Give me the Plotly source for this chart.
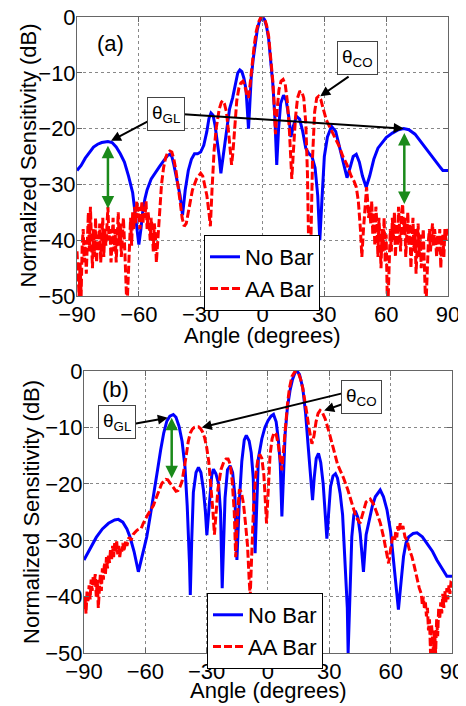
import plotly.graph_objects as go

# ---- panel (a) ----
a_blue_ang = [-90, -88, -86, -84, -82, -80, -78, -75, -73, -71, -69, -67, -65, -63, -61.5, -60, -59, -58, -57, -56,
              -54, -52, -50, -48, -46, -45, -44, -43, -41.5, -40, -38.8, -37.5, -36, -34.5, -33, -31.5, -30, -28.5,
              -27, -26, -25, -24, -23, -22, -21, -20.2, -19.5, -18.5, -17.5, -16, -14.5, -13, -12, -11, -10, -9, -8,
              -7.3, -6.8, -6.2, -5.5, -4.5, -3.5, -2.5, -1.5, -0.5, 0, 1, 2, 3, 4, 5, 6, 6.9, 7.8, 8.8, 10.2, 11.5,
              12.8, 13.8, 15, 16.5, 18, 19.5, 21, 22.5, 24, 25.5, 26.8, 27.8, 28.8, 30, 31.5, 33.5, 35.5, 37.5, 39.5,
              41, 42.5, 44, 45.5, 47, 48.5, 50.3, 52, 54, 56, 58, 60, 63, 66, 68.5, 71, 74, 77, 80, 83, 86, 87.5, 90]
a_blue_db = [-27.5, -26.6, -25.3, -24.2, -23.3, -22.8, -22.5, -22.3, -22.5, -23.3, -24.5, -26, -28.5, -31.5, -36,
             -40.8, -38, -34.5, -32.5, -31, -29, -27.8, -26.8, -25.8, -24.8, -24.6, -25, -26.5, -29.4, -32, -35.5,
             -31, -27.5, -25.5, -24.5, -24.5, -24.2, -23, -20.5, -18.2, -17.2, -17.6, -19.5, -22, -25, -28, -26, -23,
             -20, -16.5, -14.5, -11.5, -10, -9.5, -9.8, -11, -13, -17, -20, -16, -11, -7.5, -4.5, -2.2, -0.8, -0.1,
             0, -0.5, -1.8, -4, -7.5, -12, -18, -26.5, -20, -15.5, -14, -15, -18, -21.5, -19.5, -17.8, -18.3, -20.5,
             -23.5, -24.5, -25, -27, -32, -40, -33, -25, -21.5, -19.6, -20.5, -23.5, -27, -28.8, -27, -25, -24.6,
             -26, -28.5, -30.5, -28.5, -25.5, -23.5, -22.5, -21.6, -20.8, -20.2, -20, -20.2, -21, -22.5, -23.8,
             -25.3, -26.8, -27.5, -27.5]

a_red_ang = [-90, -89.5, -89, -88.5, -88, -87.5, -87, -86.5, -86, -85.5, -85, -84.5, -84, -83.5, -83, -82.5, -82,
             -81.5, -81, -80.5, -80, -79.5, -79, -78.5, -78, -77.5, -77, -76.5, -76, -75.5, -75, -74.5, -74, -73.5,
             -73, -72.5, -72, -71.5, -71, -70.5, -70, -69.5, -69, -68.5, -68, -67.5, -67, -66.5, -66, -65.5, -65,
             -64.5, -64, -63.5, -63, -62.5, -62, -61.5, -61, -60.5, -60, -59.5, -59, -58.5, -58, -57.5, -57, -56.5,
             -56, -55.5, -55, -54.5, -54, -53.5, -53, -52.5, -52, -51.5, -50.8, -50, -49, -48, -47, -46, -45, -44,
             -43, -42, -41, -40, -39, -38, -37, -36, -35, -34, -33, -32, -31, -30, -29, -28, -27, -26, -25.3, -24.5,
             -23.5, -22.5, -21, -20, -19.3, -18.5, -17.5, -16.5, -15.5, -15, -14.3, -13.5, -12.5, -11.5, -10.5,
             -9.5, -8.5, -7.5, -6.8, -6, -5, -4, -3, -2, -1, 0, 1, 2, 3, 4, 5, 5.7, 6.3, 7, 8, 9, 10, 11, 12, 13,
             14.2, 15, 16, 17, 18, 19, 20, 21, 21.8, 22.3, 22.7, 23.5, 24.3, 25.3, 26.3, 27.2, 28.3, 29.5, 31, 33,
             35, 37, 39, 41, 43, 44.5, 45.5, 46.5, 47.5, 48.2, 49, 50, 50.5, 51, 51.5, 52, 52.5, 53, 53.5, 54, 54.5,
             55, 55.5, 56, 56.5, 57, 57.5, 58, 58.5, 59, 59.5, 60, 60.5, 61, 61.5, 62, 62.5, 63, 63.5, 64, 64.5, 65,
             65.5, 66, 66.5, 67, 67.5, 68, 68.5, 69, 69.5, 70, 70.5, 71, 71.5, 72, 72.5, 73, 73.5, 74, 74.5, 75,
             75.5, 76, 76.5, 77, 77.5, 78, 78.5, 79, 79.5, 80, 80.5, 81, 81.5, 82, 82.5, 83, 83.5, 84, 84.5, 85,
             85.5, 86, 86.5, 87, 87.5, 88, 88.5, 89, 89.5, 90]
a_red_db = [-42, -46, -50, -44, -50, -41, -38, -44, -40, -46, -39, -35, -42, -34, -40, -45, -38, -43, -36, -44, -39,
            -42, -37, -44, -40, -36, -43, -38, -41, -37, -34, -40, -38, -44, -39, -36, -42, -38, -44, -37, -35, -41,
            -37, -43, -39, -36, -40, -45, -50, -50, -44, -38, -36, -41, -35, -38, -34, -37, -33, -36, -34, -38, -35,
            -33, -37, -34, -36, -33, -38, -35, -37, -40, -36, -38, -42, -37, -39, -44, -40, -35, -30, -27, -25.2,
            -24.3, -24, -24.2, -25.5, -27.5, -30, -33, -36, -37.5, -37, -35, -33, -31, -30, -29, -28.5, -28, -28.5,
            -30, -32, -35, -37.5, -31, -24, -20, -16.5, -15.3, -15, -15.5, -17, -20.5, -25, -26.5, -24, -19, -15,
            -12.8, -11.8, -11.5, -12.5, -14, -14.5, -12, -8, -5, -2.5, -1, -0.2, 0, -0.3, -1.5, -3.5, -7, -11.5,
            -16, -21, -17, -13, -11.5, -11.2, -12, -15, -20, -29, -24, -18, -14.5, -13.4, -13.3, -14.5, -19, -28,
            -39, -50, -40, -25, -17, -14.5, -14.2, -14.8, -16.5, -18.5, -20, -21.5, -23, -25, -26.5, -28.5, -29.5,
            -30.5, -33, -38, -43, -38, -32, -30.5, -33, -36, -34, -37, -33, -39, -35, -41, -34, -37, -43, -36, -40,
            -45, -38, -42, -36, -44, -39, -50, -50, -45, -38, -42, -36, -40, -35, -43, -37, -41, -34, -38, -42, -35,
            -33.5, -39, -36, -43, -38, -35, -41, -37, -45, -39, -36, -42, -38, -46, -40, -37, -43, -39, -45, -41,
            -38, -44, -50, -50, -44, -40, -38, -42, -39, -37, -41, -38, -40, -43, -39, -42, -38, -45, -40, -39, -43,
            -38, -40, -38, -39]

# ---- panel (b) ----
b_blue_ang = [-90, -87, -84, -81, -78, -75, -73.2, -71, -69, -67.5, -65.5, -63.4, -61.5, -59.3, -57.5, -56, -54,
              -52.5, -51, -49.5, -48, -46.3, -45, -43.5, -42, -40.6, -39.5, -38.4, -38, -37.3, -36.5, -35.2, -34,
              -32.8, -31.6, -30.6, -29.9, -29, -28.3, -27.5, -26.7, -25.5, -24.2, -23.2, -22.4, -21.6, -21, -19.8,
              -18.5, -17.3, -16.2, -15.2, -14, -12.8, -11.6, -10.6, -9.2, -8.2, -7.2, -6.3, -5.5, -4.7, -3, -1.5, 0,
              1.5, 2.7, 4, 5.1, 6, 6.8, 7.6, 8.4, 9.5, 10.8, 12, 13.2, 14.2, 15.4, 17, 18.4, 19.8, 20.8, 21.8, 22.6,
              23.6, 24.7, 25.8, 27, 28, 28.8, 29.6, 30.6, 31.8, 33, 34, 35.3, 36.5, 37.8, 38.8, 39.2, 39.8, 41, 42,
              42.7, 44, 45.1, 46.7, 48, 49.2, 51, 52.5, 54.9, 56.5, 58.2, 60, 61.4, 63.8, 65.2, 66.3, 67.5, 68.8, 71,
              72.9, 75.5, 77.8, 80.5, 82.6, 85, 87.5, 90]
b_blue_db = [-33.5, -31.5, -29.5, -28, -27, -26.4, -26.3, -26.8, -28, -29.4, -32, -35.6, -32.5, -29.4, -25.5,
             -22.3, -17.5, -14, -11, -8.9, -8, -7.7, -8.2, -9.8, -12.5, -17, -24, -34, -39.7, -30, -21.5, -18,
             -17.1, -18, -21, -25, -29.1, -25, -21.5, -18.5, -17.4, -18.2, -19.9, -25, -38.5, -28, -22.5, -17.5,
             -16.8, -18, -22, -33.5, -23, -16, -12.2, -11.4, -12.4, -14.5, -19, -32.3, -22, -15.5, -12, -10, -8.8,
             -8, -7.7, -9, -12.3, -16.5, -25.8, -17, -11.1, -6.5, -3.4, -1.5, -0.3, 0, -0.6, -3, -7.5, -14, -18.5,
             -22.9, -19, -15.5, -14.6, -16.2, -20, -24.5, -29.7, -25.5, -20.5, -18.6, -18.2, -19, -21.7, -25.5,
             -34.1, -42, -50, -42, -29.4, -25.5, -24.8, -26, -28.8, -35.6, -29, -27, -24, -22.3, -21.1, -22.3, -24.6,
             -28.5, -34.1, -42.3, -37, -32.9, -30.5, -29.4, -28.8, -28.7, -29.4, -30.5, -32, -33.5, -35, -36.4,
             -36.4]

b_red_ang = [-90, -89.5, -89, -88.5, -88, -87.5, -87, -86.5, -86, -85.5, -85, -84.5, -84, -83.5, -83, -82.5, -82,
             -81.5, -81, -80.5, -80, -79.5, -79, -78.5, -78, -77.5, -77, -76.5, -76, -75.5, -75, -74.5, -74, -73.5,
             -73, -72.5, -72, -71.5, -71, -70.5, -70, -69.5, -69, -68.5, -68, -67, -66, -65, -64, -63, -62, -61,
             -60, -59, -58, -57, -56, -55, -54, -53, -52, -51, -50, -49, -48, -47, -46, -45, -44, -43, -42, -41,
             -40, -39, -38, -37, -36, -35, -34, -33, -32, -31, -30, -29, -28, -27, -26.2, -25.5, -24.5, -23, -21.5,
             -20.5, -19.5, -18.5, -17.5, -16.5, -15.8, -15, -14, -13, -12, -11, -10, -9.2, -8.7, -8, -7, -6, -5, -4,
             -3, -2, -1.2, -0.7, 0, 1, 2, 3, 4, 5, 6, 6.8, 7.5, 8.5, 9.5, 10.5, 11.7, 13, 14, 15, 16, 17, 18, 19,
             20, 21.5, 22.5, 23.5, 24.5, 25.5, 26.5, 28, 30, 32, 34, 35.3, 37, 39, 41, 43, 45, 46.5, 48, 50, 51.5,
             53.3, 55, 56.5, 58, 59, 60, 61, 62, 62.5, 63, 63.5, 64, 64.7, 65.3, 66, 67, 68, 69, 70.4, 71.5, 72.9,
             74, 75, 75.5, 76, 76.5, 77, 77.5, 78, 78.5, 79, 79.5, 80, 80.5, 81, 81.5, 82, 82.5, 83, 83.5, 84, 84.5,
             85, 85.5, 86, 86.5, 87, 87.5, 88, 88.5, 89, 89.5, 90]
b_red_db = [-42.3, -40, -43, -39, -41, -38, -40.5, -37, -39, -36.5, -38, -36, -40, -37, -42, -38, -36, -39, -35,
            -37, -34, -36, -33, -35, -32.5, -34, -31.5, -33.5, -31, -33, -30.5, -32, -30.2, -32.5, -31, -33, -31.5,
            -32, -30.5, -32, -31, -30, -31, -30, -29.5, -30, -29, -28.6, -28.2, -28, -27.9, -27, -26.2, -25.6, -25,
            -24.5, -23.8, -22.8, -21.8, -20.8, -20, -19.5, -19.2, -19.3, -19.8, -20.5, -21, -21.3, -21.2, -20.5,
            -19.5, -17.5, -15, -12.5, -11, -10.3, -10, -9.9, -9.9, -10.2, -10.8, -11.8, -13.5, -16, -20, -24.5,
            -29, -26, -21, -17.5, -16, -15.6, -15.6, -16.5, -19.5, -25, -33, -26, -21, -21.5, -23.5, -27, -31, -37,
            -40, -33, -23.5, -18.5, -15.8, -14.8, -15.5, -18.5, -23, -27, -22, -15, -12, -10.9, -11.2, -13, -15.5,
            -17.6, -14.5, -10, -6, -3, -1, -0.2, 0, -0.5, -1.5, -3, -5, -7.5, -10, -12.9, -11.5, -9, -7.5, -7,
            -7.3, -8.5, -11, -14, -16.5, -17.6, -19, -21, -23.5, -25.8, -27, -25, -23.2, -22.7, -23.5, -25.2, -27,
            -29.4, -32, -34.1, -31.5, -29.4, -30, -28.5, -29.5, -27.5, -28.5, -27, -28, -27.5, -29.4, -30, -31.5,
            -32.9, -34.5, -37, -38.5, -39.5, -41.5, -40, -42, -41, -43.5, -42, -46, -44, -50, -45, -48, -50, -46,
            -50, -44, -47, -42, -44, -41, -43, -39.5, -42, -39, -41, -38.5, -40.5, -38, -39.5, -37.5, -37.6]

tick_x = [-90, -60, -30, 0, 30, 60, 90]
tick_y = [-50, -40, -30, -20, -10, 0]
x_title = "Angle (degrees)"
y_title = "Normalized Sensitivity (dB)"

blue = "#0000ff"
red = "#ff0000"
green = "#1a8a1a"
font = "Liberation Sans, Arial, sans-serif"
dash = "8px,3px"

fig = go.Figure()
fig.add_trace(go.Scatter(x=a_blue_ang, y=a_blue_db, mode="lines", name="No Bar",
                         line=dict(color=blue, width=3), xaxis="x", yaxis="y", legend="legend"))
fig.add_trace(go.Scatter(x=a_red_ang, y=a_red_db, mode="lines", name="AA Bar",
                         line=dict(color=red, width=3, dash=dash), xaxis="x", yaxis="y", legend="legend"))
fig.add_trace(go.Scatter(x=b_blue_ang, y=b_blue_db, mode="lines", name="No Bar",
                         line=dict(color=blue, width=3), xaxis="x2", yaxis="y2", legend="legend2"))
fig.add_trace(go.Scatter(x=b_red_ang, y=b_red_db, mode="lines", name="AA Bar",
                         line=dict(color=red, width=3, dash=dash), xaxis="x2", yaxis="y2", legend="legend2"))

ax_style = dict(showline=True, linecolor="#666", linewidth=1, mirror="ticks", ticks="inside", ticklen=5,
                tickcolor="#666", showgrid=True, gridcolor="#888", griddash="dot", gridwidth=1,
                zeroline=False, automargin=False, ticklabeloverflow="allow",
                tickfont=dict(size=22, color="black"))
x_style = dict(ax_style, range=[-90, 90], tickvals=tick_x, ticklabelstandoff=-1)
y_style = dict(ax_style, range=[-50, 0], tickvals=tick_y, ticklabelstandoff=-4)

# the page body adds an 8px offset, so the figure is 8px smaller than the window
fig.update_layout(
    width=458, height=698, margin=dict(l=0, r=0, t=0, b=0, autoexpand=False),
    paper_bgcolor="white", plot_bgcolor="white",
    font=dict(family=font, color="black"),
    xaxis=dict(domain=[0.1507, 0.9607], anchor="y", **x_style),
    yaxis=dict(domain=[0.5874, 0.9871], anchor="x", **y_style),
    xaxis2=dict(domain=[0.1659, 0.9694], anchor="y2", **x_style),
    yaxis2=dict(domain=[0.0759, 0.4799], anchor="x2", **y_style),
    legend=dict(x=0.428, y=0.6748, xanchor="left", yanchor="top", bgcolor="white", bordercolor="black",
                borderwidth=1, font=dict(size=22), tracegroupgap=0),
    legend2=dict(x=0.4345, y=0.1619, xanchor="left", yanchor="top", bgcolor="white", bordercolor="black",
                 borderwidth=1, font=dict(size=22), tracegroupgap=0),
)


def arrow(xr, yr, x, y, ax, ay, color="black", width=2, both=False):
    return dict(xref=xr, yref=yr, axref=xr, ayref=yr, x=x, y=y, ax=ax, ay=ay, text="", showarrow=True,
                arrowcolor=color, arrowwidth=width, arrowhead=2, arrowsize=1,
                startarrowhead=2, startarrowsize=1, arrowside="end+start" if both else "end")


def box(xr, yr, x, y, label):
    return dict(xref=xr, yref=yr, x=x, y=y, text="θ<sub>" + label + "</sub>", showarrow=False,
                font=dict(size=19, color="black"), bgcolor="white", bordercolor="#444", borderwidth=1,
                borderpad=4)


def title(x, y, text, angle=0):
    return dict(xref="paper", yref="paper", x=x, y=y, text=text, showarrow=False, textangle=angle,
                xanchor="center", yanchor="middle", font=dict(size=22, color="black"))


annotations = [
    title(0.0437, 0.7887, y_title, -90),
    title(0.5546, 0.5315, x_title),
    title(0.0524, 0.2780, y_title, -90),
    title(0.5677, 0.0229, x_title),
    dict(xref="x", yref="y", x=-74, y=-4.7, text="(a)", showarrow=False, font=dict(size=22)),
    arrow("x", "y", -73.5, -22.2, -54, -18.4),
    arrow("x", "y", 68.5, -20, -39, -17.4),
    arrow("x", "y", 28, -14.2, 42.5, -10.5),
    arrow("x", "y", -75, -34.3, -75, -22.8, color=green, width=2.5, both=True),
    arrow("x", "y", 68.8, -33.5, 68.8, -20.5, color=green, width=2.5, both=True),
    box("x", "y", -46.8, -17.4, "GL"),
    box("x", "y", 45.9, -7.4, "CO"),
    dict(xref="x2", yref="y2", x=-74.8, y=-3.3, text="(b)", showarrow=False, font=dict(size=22)),
    arrow("x2", "y2", -49, -8.3, -66, -9.4),
    arrow("x2", "y2", -32.4, -10, 37, -3.9),
    arrow("x2", "y2", 27.5, -7, 37, -5.8),
    arrow("x2", "y2", -47.1, -19, -47.1, -8, color=green, width=2.5, both=True),
    box("x2", "y2", -73.8, -9.0, "GL"),
    box("x2", "y2", 45.8, -4.6, "CO"),
]
fig.update_layout(annotations=annotations)

fig.write_html("out.html")
